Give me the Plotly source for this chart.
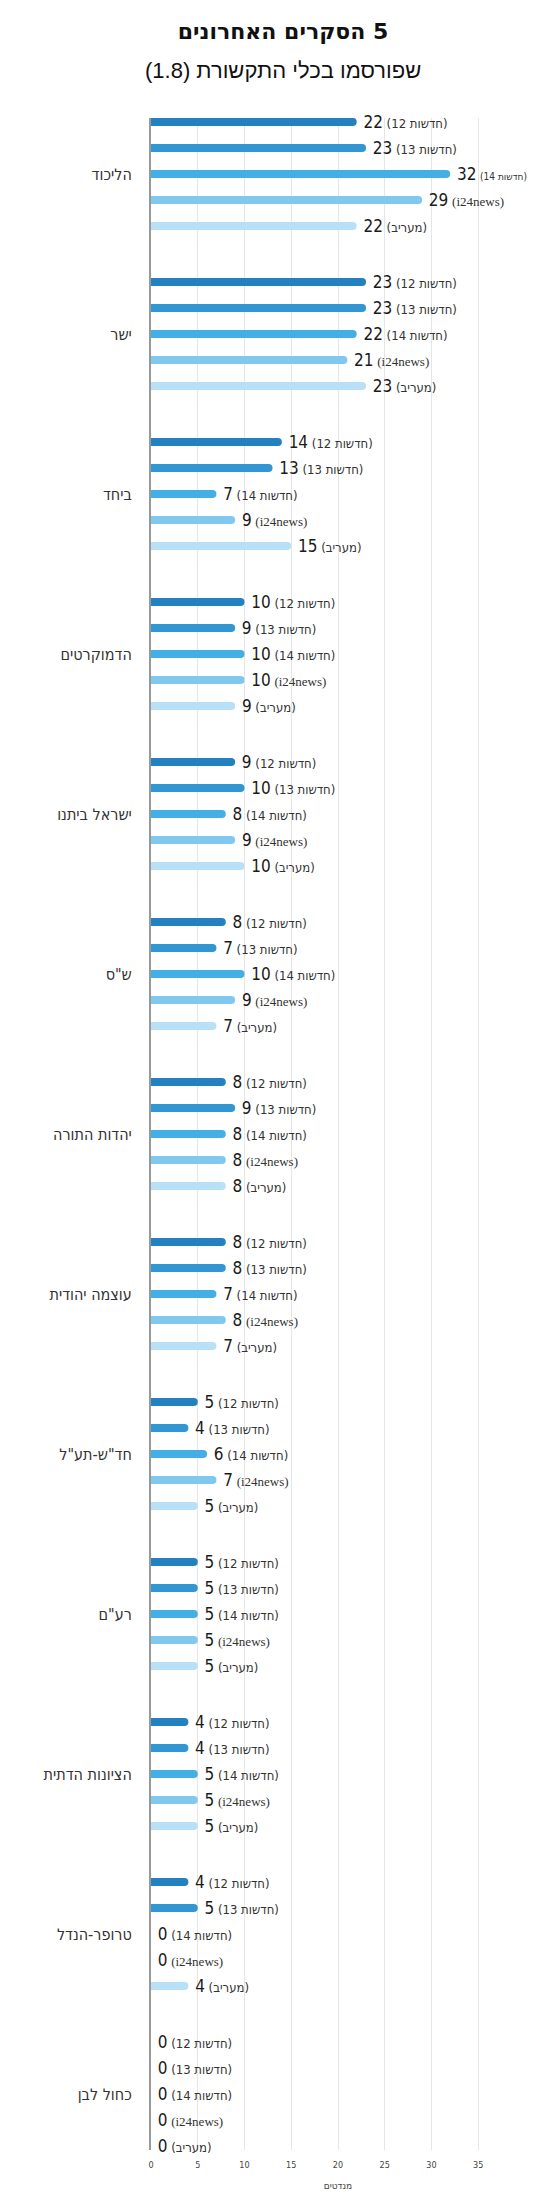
import plotly.graph_objects as go

# parties, top to bottom
parties = ["הליכוד", "ישר", "ביחד", "הדמוקרטים", "ישראל ביתנו", 'ש"ס', "יהדות התורה",
           "עוצמה יהודית", 'חד"ש-תע"ל', 'רע"ם', "הציונות הדתית", "טרופר-הנדל", "כחול לבן"]

sources = ["חדשות 12", "חדשות 13", "חדשות 14", "i24news", "מעריב"]

seats_n12 = [22, 23, 14, 10, 9, 8, 8, 8, 5, 5, 4, 4, 0]
seats_n13 = [23, 23, 13, 9, 10, 7, 9, 8, 4, 5, 4, 5, 0]
seats_n14 = [32, 22, 7, 10, 8, 10, 8, 7, 6, 5, 5, 0, 0]
seats_i24 = [29, 21, 9, 10, 9, 9, 8, 8, 7, 5, 5, 0, 0]
seats_maariv = [22, 23, 15, 9, 10, 7, 8, 7, 5, 5, 5, 4, 0]

x_ticks = [0, 5, 10, 15, 20, 25, 30, 35]

colors = ["#2381c0", "#3196d2", "#45aee4", "#80c8ef", "#b8e1f8"]

FONT = "Liberation Sans Narrow, DejaVu Sans Condensed, Arial Narrow, sans-serif"
SERIF = "Liberation Serif, Times New Roman, serif"

# bidi controls: right-to-left embedding for the headings
RLE, PDF = "\u202b", "\u202c"


def make_label(value, source):
    src_size = 10 if value >= 30 else 13
    src_font = SERIF if source == "i24news" else FONT
    # LRM keeps the number on the left and the brackets in place
    return ("\u00a0<span style='font-size:17px;color:#1a1a1a'>%d</span>\u200e "
            "<span style='font-size:%dpx;color:#333;font-family:%s'>(%s)</span>\u200e"
            % (value, src_size, src_font, source))


series = [seats_n12, seats_n13, seats_n14, seats_i24, seats_maariv]

fig = go.Figure()
for src, vals, col in zip(sources, series, colors):
    fig.add_trace(go.Bar(
        y=parties, x=vals, orientation="h", name=src,
        marker=dict(color=col, cornerradius=4, line=dict(width=0)),
        text=[make_label(v, src) for v in vals],
        textposition="outside", textangle=0, cliponaxis=False,
        constraintext="none",
        textfont=dict(family=FONT, size=13, color="#333"),
        hoverinfo="x+name",
    ))

title_txt = RLE + "5 הסקרים האחרונים" + PDF
subtitle_txt = RLE + "שפורסמו בכלי התקשורת (1.8)" + PDF

fig.update_layout(
    width=550, height=2210,
    margin=dict(l=143, r=33, t=110, b=68),
    barmode="group", bargap=0.1875, bargroupgap=0.69,
    plot_bgcolor="white", paper_bgcolor="white",
    showlegend=False,
    font=dict(family=FONT, color="#333"),
    title=dict(text=title_txt, x=0.5, xanchor="center",
               y=1 - 23 / 2210, yanchor="middle", yref="container",
               font=dict(family="DejaVu Sans, sans-serif", size=22,
                         weight=800, color="#111")),
    annotations=[dict(text=subtitle_txt, xref="paper", yref="paper",
                      x=(275 - 143) / 374, y=1 + (110 - 62) / 2032,
                      xanchor="center", yanchor="middle", showarrow=False,
                      font=dict(family="Liberation Sans, DejaVu Sans, sans-serif", size=22, color="#111"))],
)

fig.update_xaxes(range=[0, 40], tickvals=x_ticks, showgrid=True, gridcolor="#e6e6e6",
                 gridwidth=1, zeroline=False, showline=False, ticks="",
                 ticklabelstandoff=8, tickfont=dict(size=9, color="#444"),
                 title=dict(text="מנדטים", font=dict(size=10, color="#444"), standoff=12))
fig.update_yaxes(range=[12.35, -0.35], showline=True, linecolor="#999", linewidth=2,
                 showgrid=False, ticks="", ticklabelstandoff=14,
                 tickfont=dict(size=16, color="#333"))

fig.write_html("out.html")
